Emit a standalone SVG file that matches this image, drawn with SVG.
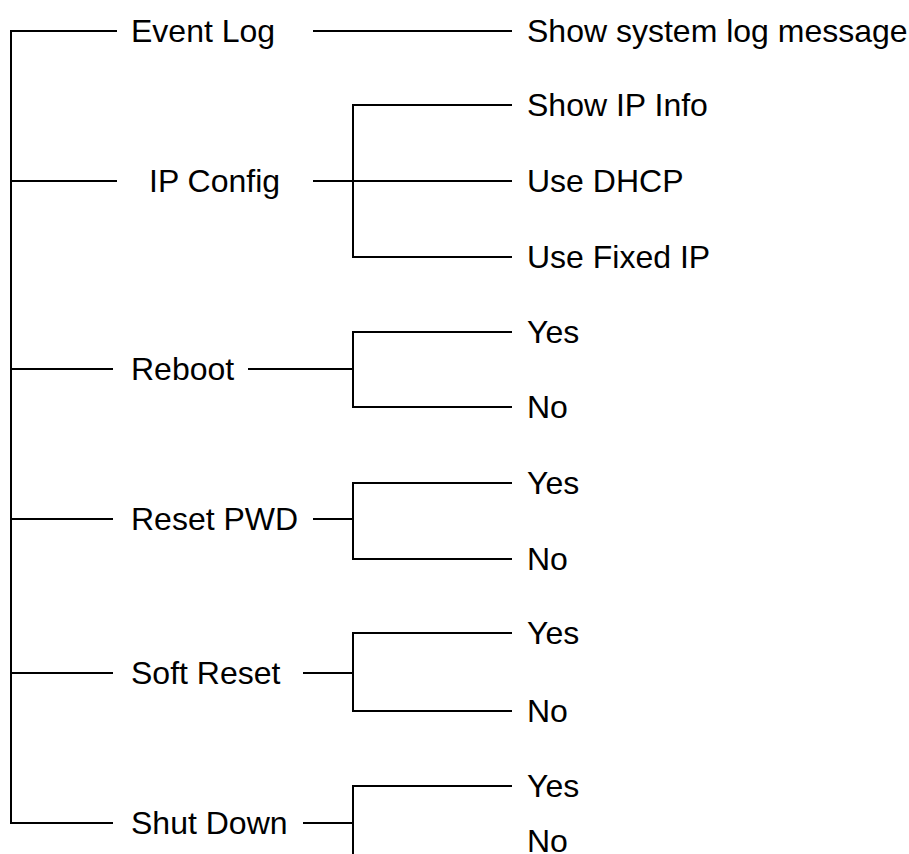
<svg xmlns="http://www.w3.org/2000/svg" width="909" height="854" viewBox="0 0 909 854">
<style>
.l{stroke:#000;stroke-width:2;fill:none;stroke-linecap:butt}
text{font-family:"Liberation Sans",Arial,sans-serif;font-size:32px;fill:#000}
</style>
<rect width="909" height="854" fill="#fff"/>
<g id="connectors">
<path class="l" d="M117 31H11V823H113"/>
<path class="l" d="M11 181H117M11 369H113M11 519H113M11 673H113"/>
<path class="l" d="M313 31H512"/>
<path class="l" d="M313 181H512M512 105H353V257H512"/>
<path class="l" d="M248 369H353M512 332H353V407H512"/>
<path class="l" d="M313 519H353M512 483H353V559H512"/>
<path class="l" d="M303 673H353M512 633H353V711H512"/>
<path class="l" d="M303 823H353M512 786H353V854"/>
</g>
<g id="event-log"><text x="131" y="42">Event Log</text></g>
<g id="show-log"><text x="527" y="42">Show system log message</text></g>
<g id="ip-config"><text x="149" y="192">IP Config</text></g>
<g id="show-ip"><text x="527" y="116">Show IP Info</text></g>
<g id="use-dhcp"><text x="527" y="192">Use DHCP</text></g>
<g id="use-fixed"><text x="527" y="268">Use Fixed IP</text></g>
<g id="reboot"><text x="131" y="380">Reboot</text></g>
<g id="reboot-yes"><text x="527" y="343">Yes</text></g>
<g id="reboot-no"><text x="527" y="418">No</text></g>
<g id="reset-pwd"><text x="131" y="530">Reset PWD</text></g>
<g id="pwd-yes"><text x="527" y="494">Yes</text></g>
<g id="pwd-no"><text x="527" y="570">No</text></g>
<g id="soft-reset"><text x="131" y="684">Soft Reset</text></g>
<g id="soft-yes"><text x="527" y="644">Yes</text></g>
<g id="soft-no"><text x="527" y="722">No</text></g>
<g id="shut-down"><text x="131" y="834">Shut Down</text></g>
<g id="shut-yes"><text x="527" y="797">Yes</text></g>
<g id="shut-no"><text x="527" y="852">No</text></g>
</svg>
